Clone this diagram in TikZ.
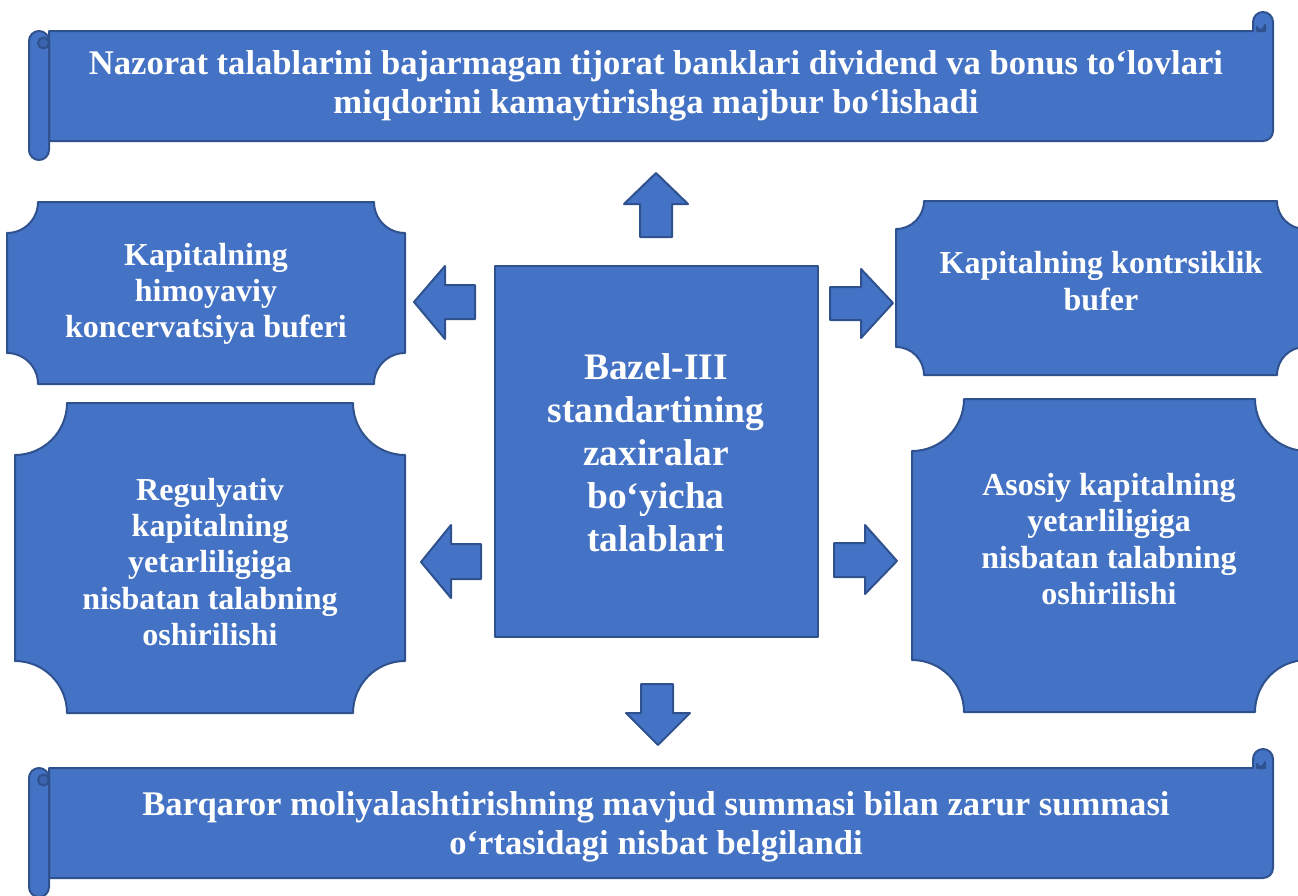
\documentclass[tikz,border=0pt]{standalone}
\usepackage{fontspec}
\setmainfont{Liberation Serif}
\definecolor{boxfill}{HTML}{4472C4}
\definecolor{boxline}{HTML}{2F528F}
\definecolor{curlfill}{HTML}{3A64AE}
\newcommand{\plaquebox}[5]{%
  \path[shapestyle] ({#1+#5},#2) -- ({#3-#5},#2)
   .. controls ({#3-#5},{#2+0.5523*#5}) and ({#3-0.5523*#5},{#2+#5}) .. (#3,{#2+#5})
   -- (#3,{#4-#5})
   .. controls ({#3-0.5523*#5},{#4-#5}) and ({#3-#5},{#4-0.5523*#5}) .. ({#3-#5},#4)
   -- ({#1+#5},#4)
   .. controls ({#1+#5},{#4-0.5523*#5}) and ({#1+0.5523*#5},{#4-#5}) .. (#1,{#4-#5})
   -- (#1,{#2+#5})
   .. controls ({#1+0.5523*#5},{#2+#5}) and ({#1+#5},{#2+0.5523*#5}) .. cycle;}
\newcommand{\scrollshape}[1]{%
  \begin{scope}[shift={(0,#1)}]
  \path[shapestyle] (49,31) -- (1253,31) -- (1253,22)
    .. controls (1253,16.5) and (1257.5,12) .. (1263,12)
    .. controls (1268.5,12) and (1273,16.5) .. (1273,22)
    -- (1273,131)
    .. controls (1273,136.5) and (1268.5,141) .. (1263,141)
    -- (49,141) -- cycle;
  \path[shapestyle, fill=curlfill] (1257,27) .. controls (1257,31) and (1265,31) .. (1265,25) -- (1265,31) -- (1257,31) -- cycle;
  \path[shapestyle, rounded corners=10pt] (29,31) rectangle (49,160);
  \path[shapestyle, fill=curlfill] (43.5,43) circle[radius=5.5];
  \end{scope}}
\tikzset{
  shapestyle/.style={fill=boxfill, draw=boxline, line width=2pt, line join=round},
  scrolltext/.style={text=white, align=center, font=\fontsize{34.6}{39}\selectfont\bfseries},
  plaquetext/.style={text=white, align=center, font=\fontsize{32}{36.2}\selectfont\bfseries},
  centertext/.style={text=white, align=center, font=\fontsize{37.4}{43}\selectfont\bfseries}
}
\begin{document}
\begin{tikzpicture}[x=1pt,y=-1pt]
\useasboundingbox (0,0) rectangle (1298,895);
\clip (0,0) rectangle (1298,895);
\fill[white] (0,0) rectangle (1298,895);
% scrolls
\scrollshape{0}
\scrollshape{737}
% plaques
\plaquebox{7}{202}{405}{384}{31}
\plaquebox{896}{201}{1305}{375}{28}
\plaquebox{15}{403}{405}{713}{52}
\plaquebox{912}{399}{1307}{712}{52}
% centre box
\path[shapestyle] (495,266) rectangle (818,637);
% block arrows
\path[shapestyle] (656,173) -- (688,204) -- (672,204) -- (672,237) -- (640,237) -- (640,204) -- (624,204) -- cycle;
\path[shapestyle] (658,745) -- (690,713) -- (673,713) -- (673,684) -- (641,684) -- (641,713) -- (626,713) -- cycle;
\path[shapestyle] (414,302) -- (445,266) -- (445,285) -- (475,285) -- (475,319) -- (445,319) -- (445,339) -- cycle;
\path[shapestyle] (893,303) -- (861,269) -- (861,287) -- (830,287) -- (830,320) -- (861,320) -- (861,338) -- cycle;
\path[shapestyle] (421,562) -- (451,525) -- (451,544) -- (481,544) -- (481,579) -- (451,579) -- (451,598) -- cycle;
\path[shapestyle] (897,561) -- (865,525) -- (865,543) -- (834,543) -- (834,577) -- (865,577) -- (865,594) -- cycle;
% texts
\node[scrolltext] (top) at (656,86) {Nazorat talablarini bajarmagan tijorat banklari dividend va bonus to‘lovlari\\miqdorini kamaytirishga majbur bo‘lishadi};
\node[scrolltext] (bottom) at (656,827) {Barqaror moliyalashtirishning mavjud summasi bilan zarur summasi\\o‘rtasidagi nisbat belgilandi};
\node[plaquetext] (lt) at (206,294) {Kapitalning\\himoyaviy\\koncervatsiya buferi};
\node[plaquetext] (rt) at (1101,281) {Kapitalning kontrsiklik\\bufer};
\node[plaquetext] (lb) at (210,562) {Regulyativ\\kapitalning\\yetarliligiga\\nisbatan talabning\\oshirilishi};
\node[plaquetext] (rb) at (1109,539) {Asosiy kapitalning\\yetarliligiga\\nisbatan talabning\\oshirilishi};
\node[centertext] (center) at (656,453) {Bazel-III\\standartining\\zaxiralar\\bo‘yicha\\talablari};
\end{tikzpicture}
\end{document}
